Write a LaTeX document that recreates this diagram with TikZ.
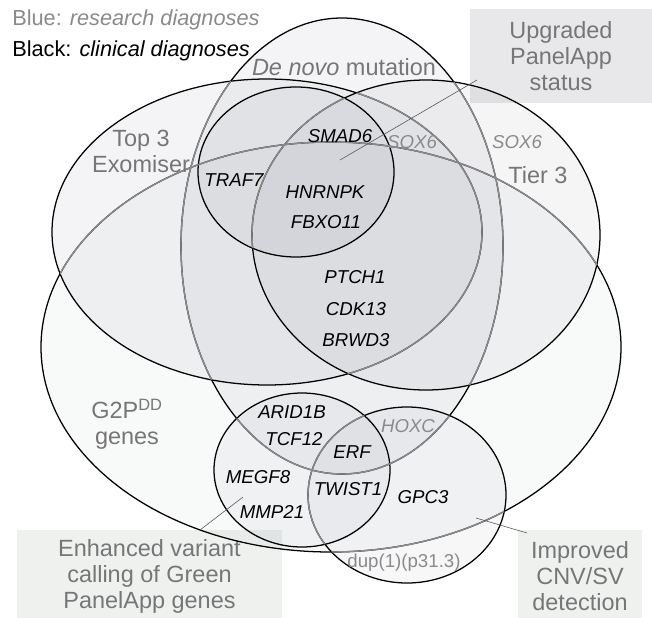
\documentclass[tikz,border=0pt]{standalone}
\usepackage{fontspec}
\setmainfont{Liberation Sans}
\usepackage{tikz}

\definecolor{setink}{RGB}{70,76,98}
\definecolor{bluegrey}{RGB}{138,138,142}
\definecolor{labelgrey}{RGB}{118,118,120}
\definecolor{panelbox}{RGB}{232,232,234}
\definecolor{greenbox}{RGB}{239,241,239}

% set outlines (pixel units, y pointing down)
\newcommand{\gtwopset}{(331,347) ellipse [x radius=290, y radius=205]}
\newcommand{\topthreeset}{(267,232) ellipse [x radius=215, y radius=153]}
\newcommand{\tierthreeset}{(426,235) ellipse [x radius=174, y radius=155]}
\newcommand{\denovoset}{(342,246) ellipse [x radius=161, y radius=228]}
\newcommand{\panelappset}{(296,172) ellipse [x radius=98, y radius=85]}
\newcommand{\callingset}{(302,470) ellipse [x radius=88, y radius=77]}
\newcommand{\cnvset}{(407,495) ellipse [x radius=99, y radius=88]}

\begin{document}
\begin{tikzpicture}[x=0.75pt, y=-0.75pt,
    clinical/.style={draw=black, line width=0.95pt},
    research/.style={draw=bluegrey, line width=1.05pt},
    setlabel/.style={font=\fontsize{17.6}{19.5}\selectfont, text=labelgrey, align=center},
    gene/.style={font=\fontsize{14}{16}\selectfont\itshape, anchor=base},
    resgene/.style={gene, text=bluegrey},
    legend/.style={font=\fontsize{16.3}{18}\selectfont, anchor=base west, inner sep=0pt},
    callbox/.style={font=\fontsize{17.6}{19.5}\selectfont, text=labelgrey, align=center, inner sep=0pt},
    callout/.style={draw=black!65, line width=0.45pt}]
    \useasboundingbox (0,0) rectangle (652,617);

    % Callout boxes
    \node[callbox, fill=panelbox, minimum width=136.5pt, minimum height=70.5pt] (upgraded) at (561,56) {Upgraded\\PanelApp\\status};
    \node[callbox, fill=greenbox, minimum width=198.75pt, minimum height=69pt] (enhanced) at (149.5,576) {Enhanced variant\\calling of Green\\PanelApp genes};
    \node[callbox, fill=greenbox, minimum width=93pt, minimum height=69pt] (improved) at (580,576) {Improved\\CNV/SV\\detection};

    % Set areas
    \fill[setink, fill opacity=0.035] \gtwopset;
    \fill[setink, fill opacity=0.06] \topthreeset;
    \fill[setink, fill opacity=0.055] \tierthreeset;
    \fill[setink, fill opacity=0.06] \denovoset;
    \fill[setink, fill opacity=0.05] \panelappset;
    \fill[setink, fill opacity=0.045] \callingset;
    \fill[setink, fill opacity=0.045] \cnvset;

    % Outlines
    \draw[clinical] \gtwopset;
    \draw[clinical] \topthreeset;
    \draw[clinical] \tierthreeset;
    \draw[clinical] \denovoset;
    \draw[clinical] \panelappset;
    \draw[clinical] \callingset;
    \draw[clinical] \cnvset;
    % research-only parts of the outlines
    \begin{scope}
        \clip \topthreeset \tierthreeset \denovoset \callingset \cnvset;
        \draw[research] \gtwopset;
    \end{scope}
    \begin{scope}
        \clip \tierthreeset;
        \draw[research] \topthreeset;
    \end{scope}
    \begin{scope}
        \clip \panelappset;
        \draw[research] \tierthreeset;
    \end{scope}
    \begin{scope}
        \clip \topthreeset \tierthreeset \callingset \cnvset;
        \draw[research] \denovoset;
    \end{scope}
    \begin{scope}
        \clip \callingset;
        \draw[research] \cnvset;
    \end{scope}

    % Legend
    \node[legend, text=bluegrey] (legblue) at (12,26) {Blue: \textit{research diagnoses}};
    \node[legend] (legblack) at (12,57) {Black: \textit{clinical diagnoses}};

    % Set labels
    \node[setlabel, anchor=base] (denovo) at (344,75) {\textit{De novo} mutation};
    \node[setlabel] (topthree) at (141,151) {Top 3\\Exomiser};
    \node[setlabel, anchor=base] (tierthree) at (538,183) {Tier 3};
    \node[setlabel] (gtwop) at (127,424) {G2P\textsuperscript{DD}\\genes};

    % Genes
    \node[gene] (smad6) at (340,142) {SMAD6};
    \node[gene] (traf7) at (234,186) {TRAF7};
    \node[gene] (hnrnpk) at (325,198) {HNRNPK};
    \node[gene] (fbxo11) at (326,228) {FBXO11};
    \node[gene] (ptch1) at (355,283) {PTCH1};
    \node[gene] (cdk13) at (356,315) {CDK13};
    \node[gene] (brwd3) at (356,346) {BRWD3};
    \node[gene] (arid1b) at (292,418) {ARID1B};
    \node[gene] (tcf12) at (294,445) {TCF12};
    \node[gene] (erf) at (352,458) {ERF};
    \node[gene] (megf8) at (258,483) {MEGF8};
    \node[gene] (twist1) at (348,495) {TWIST1};
    \node[gene] (mmp21) at (272,518) {MMP21};
    \node[gene] (gpc3) at (423,503) {GPC3};
    \node[resgene] (soxsix) at (412,148) {SOX6};
    \node[resgene] (soxsixtier) at (517,148) {SOX6};
    \node[resgene] (hoxc) at (408,432) {HOXC};
    \node[resgene, font=\fontsize{14}{16}\selectfont] (dup) at (404,567) {dup(1)(p31.3)};

    % Callout lines
    \coordinate (upgradedfoot) at (477,80);
    \coordinate (upgradedtip) at (340,160);
    \coordinate (enhancedfoot) at (200,530);
    \coordinate (enhancedtip) at (243,497);
    \coordinate (improvedfoot) at (527,533);
    \coordinate (improvedtip) at (476,518);
    \draw[callout] (upgradedfoot) -- (upgradedtip);
    \draw[callout] (enhancedfoot) -- (enhancedtip);
    \draw[callout] (improvedfoot) -- (improvedtip);
\end{tikzpicture}
\end{document}
